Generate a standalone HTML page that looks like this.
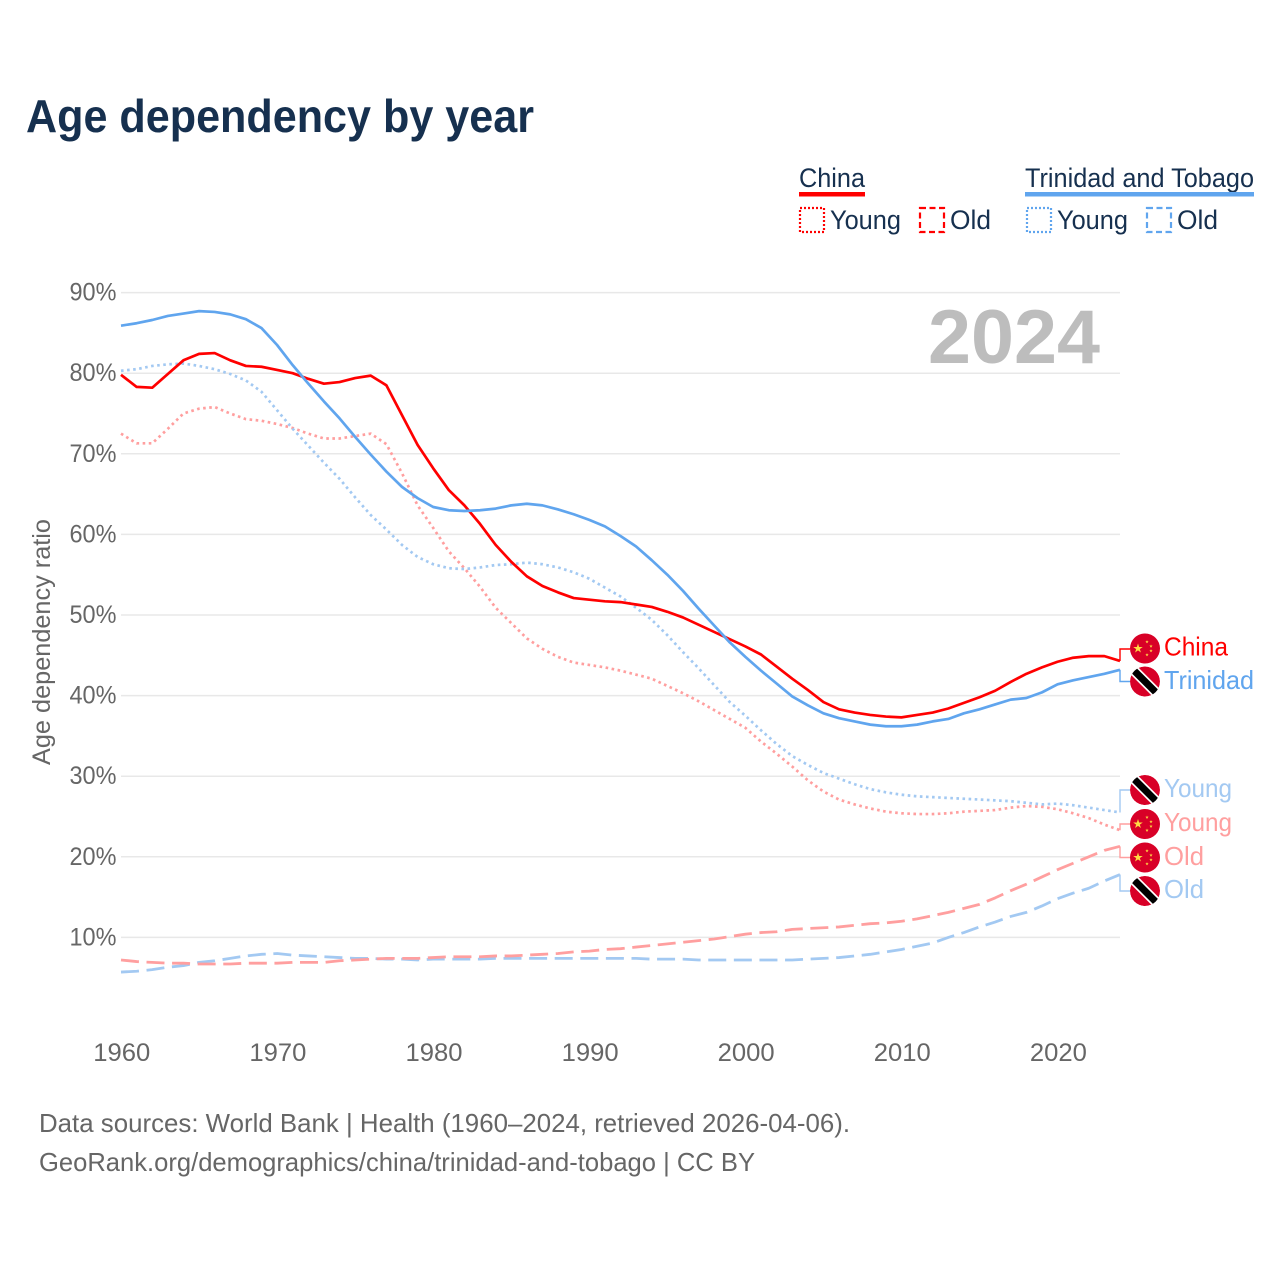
<!DOCTYPE html>
<html lang="en">
<head>
<meta charset="utf-8">
<title>Age dependency by year</title>
<style>
html,body{margin:0;padding:0;background:#fff;}
svg{display:block;font-family:"Liberation Sans",sans-serif;}
</style>
</head>
<body>
<svg id="chart" width="1280" height="1280" viewBox="0 0 1280 1280" xmlns="http://www.w3.org/2000/svg">
<defs>
  <clipPath id="flag-clip"><circle cx="0" cy="0" r="15"/></clipPath>
  <polygon id="star" points="0,-5 1.12,-1.55 4.76,-1.55 1.82,0.59 2.94,4.05 0,1.91 -2.94,4.05 -1.82,0.59 -4.76,-1.55 -1.12,-1.55" fill="#ffda44"/>
  <g id="flag-china">
    <circle r="15" fill="#d80027"/>
    <use href="#star" transform="translate(-7,0)"/>
    <use href="#star" transform="translate(2,-6.7) scale(.36)"/>
    <use href="#star" transform="translate(6,-2.3) scale(.36)"/>
    <use href="#star" transform="translate(6,2.3) scale(.36)"/>
    <use href="#star" transform="translate(2,6.3) scale(.36)"/>
  </g>
  <g id="flag-tt">
    <g clip-path="url(#flag-clip)">
      <circle r="15" fill="#d80027"/>
      <line x1="-16" y1="-16" x2="16" y2="16" stroke="#fff" stroke-width="10.5"/>
      <line x1="-16" y1="-16" x2="16" y2="16" stroke="#000" stroke-width="7"/>
    </g>
  </g>
</defs>

<text x="26" y="132" font-size="46" font-weight="700" fill="#16304f" textLength="508" lengthAdjust="spacingAndGlyphs">Age dependency by year</text>

<g font-size="27" fill="#16304f">
  <text x="799" y="187" textLength="66" lengthAdjust="spacingAndGlyphs">China</text>
  <rect x="799" y="192" width="66" height="4.5" fill="#ff0000"/>
  <rect x="800" y="208" width="24" height="24" fill="none" stroke="#ff0000" stroke-width="2.2" stroke-dasharray="2 2"/>
  <text x="830" y="229" textLength="71" lengthAdjust="spacingAndGlyphs">Young</text>
  <rect x="920" y="208" width="24" height="24" fill="none" stroke="#ff0000" stroke-width="2.2" stroke-dasharray="6 3.5"/>
  <text x="950" y="229" textLength="41" lengthAdjust="spacingAndGlyphs">Old</text>
  <text x="1025" y="187" textLength="229" lengthAdjust="spacingAndGlyphs">Trinidad and Tobago</text>
  <rect x="1025" y="192" width="229" height="4.5" fill="#60a5ee"/>
  <rect x="1027" y="208" width="24" height="24" fill="none" stroke="#60a5ee" stroke-width="2.2" stroke-dasharray="2 2"/>
  <text x="1057" y="229" textLength="71" lengthAdjust="spacingAndGlyphs">Young</text>
  <rect x="1147" y="208" width="24" height="24" fill="none" stroke="#60a5ee" stroke-width="2.2" stroke-dasharray="6 3.5"/>
  <text x="1177" y="229" textLength="41" lengthAdjust="spacingAndGlyphs">Old</text>
</g>

<g id="grid"></g>
<g id="y-ticks"></g>
<g id="x-ticks"></g>

<text transform="translate(50,642) rotate(-90)" text-anchor="middle" font-size="25" fill="#666" textLength="246" lengthAdjust="spacingAndGlyphs">Age dependency ratio</text>

<text x="928" y="363" font-size="76" font-weight="700" fill="#bdbdbd" textLength="172" lengthAdjust="spacingAndGlyphs">2024</text>

<g id="series"></g>
<g id="connectors"></g>

<g font-size="26">
  <use href="#flag-china" transform="translate(1145,648.5)"/>
  <text x="1164" y="655.5" fill="#ff0000" textLength="64" lengthAdjust="spacingAndGlyphs">China</text>
  <use href="#flag-tt" transform="translate(1145,681.5)"/>
  <text x="1164" y="689" fill="#60a5ee" textLength="90" lengthAdjust="spacingAndGlyphs">Trinidad</text>
  <use href="#flag-tt" transform="translate(1145,790)"/>
  <text x="1164" y="797" fill="#a3c9f2" textLength="68" lengthAdjust="spacingAndGlyphs">Young</text>
  <use href="#flag-china" transform="translate(1145,824)"/>
  <text x="1164" y="831" fill="#ff9f9f" textLength="68" lengthAdjust="spacingAndGlyphs">Young</text>
  <use href="#flag-china" transform="translate(1145,857.5)"/>
  <text x="1164" y="865" fill="#ff9f9f" textLength="40" lengthAdjust="spacingAndGlyphs">Old</text>
  <use href="#flag-tt" transform="translate(1145,891)"/>
  <text x="1164" y="898" fill="#a3c9f2" textLength="40" lengthAdjust="spacingAndGlyphs">Old</text>
</g>

<g font-size="26" fill="#666">
  <text x="39" y="1132" textLength="811" lengthAdjust="spacingAndGlyphs">Data sources: World Bank | Health (1960–2024, retrieved 2026-04-06).</text>
  <text x="39" y="1171" textLength="716" lengthAdjust="spacingAndGlyphs">GeoRank.org/demographics/china/trinidad-and-tobago | CC BY</text>
</g>
</svg>

<script>
const startYear = 1960;
const yTickValues = [10, 20, 30, 40, 50, 60, 70, 80, 90];
const xTickValues = [1960, 1970, 1980, 1990, 2000, 2010, 2020];

const chinaTotal = [79.8,78.3,78.2,79.9,81.6,82.4,82.5,81.6,80.9,80.8,80.4,80.0,79.3,78.7,78.9,79.4,79.7,78.5,74.8,71.1,68.2,65.5,63.6,61.3,58.7,56.6,54.8,53.6,52.8,52.1,51.9,51.7,51.6,51.3,51.0,50.4,49.7,48.8,47.9,47.0,46.1,45.1,43.6,42.1,40.7,39.2,38.3,37.9,37.6,37.4,37.3,37.6,37.9,38.4,39.1,39.8,40.6,41.7,42.7,43.5,44.2,44.7,44.9,44.9,44.3];
const trinidadTotal = [85.9,86.2,86.6,87.1,87.4,87.7,87.6,87.3,86.7,85.6,83.5,81.0,78.7,76.5,74.4,72.1,69.9,67.8,65.9,64.5,63.4,63.0,62.9,63.0,63.2,63.6,63.8,63.6,63.1,62.5,61.8,61.0,59.8,58.5,56.8,55.0,53.0,50.8,48.7,46.6,44.8,43.1,41.5,39.9,38.8,37.8,37.2,36.8,36.4,36.2,36.2,36.4,36.8,37.1,37.8,38.3,38.9,39.5,39.7,40.4,41.4,41.9,42.3,42.7,43.2];
const chinaYoung = [72.5,71.3,71.3,73.1,75.0,75.6,75.8,75.0,74.3,74.1,73.7,73.2,72.5,71.9,71.9,72.2,72.5,71.2,67.6,63.6,60.8,57.9,55.8,53.5,50.9,49.0,47.1,45.8,44.8,44.1,43.8,43.5,43.1,42.6,42.1,41.2,40.3,39.3,38.2,37.1,36.0,34.3,32.8,31.2,29.5,28.1,27.1,26.5,26.0,25.6,25.4,25.3,25.3,25.4,25.6,25.7,25.8,26.1,26.3,26.2,25.9,25.4,24.8,24.0,23.3];
const trinidadYoung = [80.3,80.5,80.9,81.1,81.2,80.9,80.5,79.9,79.1,77.7,75.4,73.1,71.0,68.9,66.9,64.6,62.4,60.6,58.7,57.2,56.3,55.8,55.7,55.9,56.2,56.3,56.5,56.3,55.9,55.3,54.5,53.4,52.3,50.9,49.4,47.5,45.4,43.4,41.3,39.2,37.5,35.7,34.0,32.5,31.4,30.4,29.7,29.0,28.4,28.0,27.7,27.5,27.4,27.3,27.2,27.1,27.0,26.9,26.7,26.5,26.6,26.4,26.1,25.8,25.5];
const chinaOld = [7.2,7.0,6.9,6.8,6.8,6.7,6.7,6.7,6.8,6.8,6.8,6.9,6.9,6.9,7.1,7.2,7.3,7.4,7.4,7.4,7.5,7.6,7.6,7.6,7.7,7.7,7.8,7.9,8.0,8.2,8.3,8.5,8.6,8.8,9.0,9.2,9.4,9.6,9.8,10.1,10.4,10.6,10.7,11.0,11.1,11.2,11.3,11.5,11.7,11.8,12.0,12.3,12.7,13.1,13.6,14.1,14.9,15.8,16.6,17.5,18.4,19.2,20.0,20.8,21.3];
const trinidadOld = [5.7,5.8,6.0,6.3,6.5,6.9,7.1,7.4,7.7,7.9,8.0,7.8,7.7,7.6,7.5,7.4,7.4,7.3,7.3,7.2,7.3,7.3,7.3,7.3,7.4,7.4,7.4,7.4,7.4,7.4,7.4,7.4,7.4,7.4,7.3,7.3,7.3,7.2,7.2,7.2,7.2,7.2,7.2,7.2,7.3,7.4,7.5,7.7,7.9,8.2,8.5,8.9,9.3,10.0,10.6,11.3,11.9,12.6,13.1,13.9,14.8,15.5,16.1,17.0,17.8];

const NS = 'http://www.w3.org/2000/svg';
function xScale(year) { return 121 + (year - 1960) * (999 / 64); }
function yScale(v) { return 1018 - v * 8.06; }
function make(tag, attrs, parent) {
  const el = document.createElementNS(NS, tag);
  for (const k in attrs) el.setAttribute(k, attrs[k]);
  parent.appendChild(el);
  return el;
}
function linePath(values) {
  return values.map((v, i) => (i ? 'L' : 'M') + xScale(startYear + i).toFixed(2) + ' ' + yScale(v).toFixed(2)).join('');
}

const gridLayer = document.getElementById('grid');
const yTickLayer = document.getElementById('y-ticks');
const xTickLayer = document.getElementById('x-ticks');
const seriesLayer = document.getElementById('series');
const connectorLayer = document.getElementById('connectors');

yTickValues.forEach(function (t) {
  const line = make('line', {x1: xScale(1960), x2: xScale(2024), y1: yScale(t), y2: yScale(t), stroke: '#e8e8e8', 'stroke-width': 1.5}, gridLayer);
  
  
  const label = make('text', {x: 116.5, y: yScale(t) + 8, 'text-anchor': 'end', 'font-size': 25, fill: '#666', textLength: 47, lengthAdjust: 'spacingAndGlyphs'}, yTickLayer);
  label.textContent = t + '%';
  
  
});

xTickValues.forEach(function (t) {
  const label = make('text', {x: xScale(t) + 0.8, y: 1061, 'text-anchor': 'middle', 'font-size': 25, fill: '#666', textLength: 57, lengthAdjust: 'spacingAndGlyphs'}, xTickLayer);
  label.textContent = t;
  
  
});

function drawSeries(values, color, dash, width) {
  const p = make('path', {d: linePath(values), fill: 'none', stroke: color, 'stroke-width': width, 'stroke-linejoin': 'round'}, seriesLayer);
  if (dash) p.setAttribute('stroke-dasharray', dash);
  return p;
}
function drawConnector(values, labelY, color, width) {
  const x = xScale(2024);
  const c = make('path', {d: 'M' + x + ' ' + yScale(values[values.length - 1]).toFixed(2) + 'V' + labelY + 'H' + (x + 10), fill: 'none', stroke: color, 'stroke-width': width}, connectorLayer);
  return c;
}

const s1 = drawSeries(trinidadOld, '#a3c9f2', '18 7.6', 2.8);


const s2 = drawSeries(chinaOld, '#ff9f9f', '18 7.6', 2.8);


const s3 = drawSeries(chinaYoung, '#ff9f9f', '2.6 3.5', 2.7);


const s4 = drawSeries(trinidadYoung, '#a3c9f2', '2.6 3.5', 2.7);


const s5 = drawSeries(chinaTotal, '#ff0000', '', 2.7);


const s6 = drawSeries(trinidadTotal, '#60a5ee', '', 2.7);



const c1 = drawConnector(chinaTotal, 649, '#ff0000', 1.4);


const c2 = drawConnector(trinidadTotal, 681.5, '#60a5ee', 1.4);


const c3 = drawConnector(trinidadYoung, 790, '#a3c9f2', 1.4);


const c4 = drawConnector(chinaYoung, 824, '#ff9f9f', 1.4);


const c5 = drawConnector(chinaOld, 857.5, '#ff9f9f', 1.4);


const c6 = drawConnector(trinidadOld, 891, '#a3c9f2', 1.4);


</script>
</body>
</html>
